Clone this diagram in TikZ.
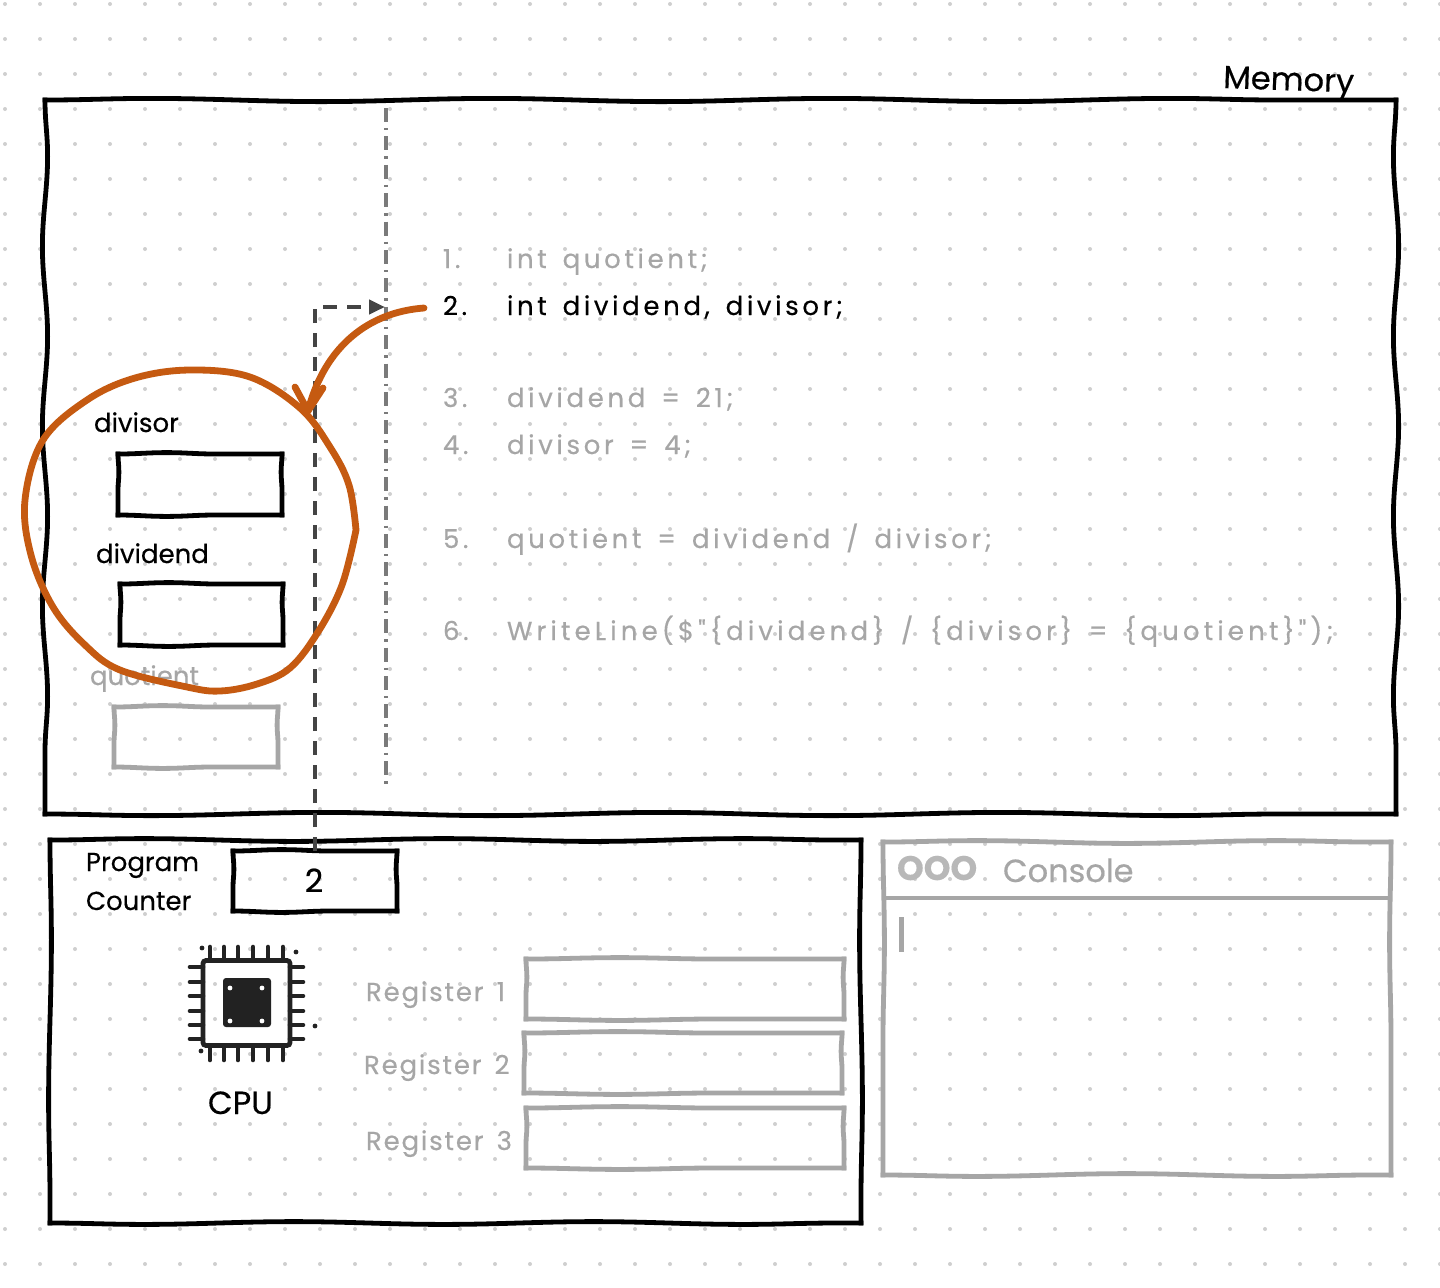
\documentclass[tikz,border=0pt]{standalone}
\usepackage{fontspec}
\setmainfont{Poppins}[LetterSpace=0,WordSpace=1.5,FakeBold=.4]
\newfontfamily\codefont{Poppins}[LetterSpace=14,WordSpace=1.5,FakeBold=.4]
\newfontfamily\codewide{Poppins}[LetterSpace=16,WordSpace=1.5,FakeBold=.4]
\newfontfamily\regfont{Poppins}[LetterSpace=7,WordSpace=1.5,FakeBold=.4]
\usetikzlibrary{decorations.pathmorphing,arrows.meta}
\definecolor{fade}{HTML}{A6A6A6}
\definecolor{griddot}{HTML}{CFCFCF}
\definecolor{pen}{HTML}{000000}
\definecolor{dashink}{HTML}{444444}
\definecolor{axisink}{HTML}{7A7A7A}
\definecolor{rust}{HTML}{C55A11}
\definecolor{chipink}{HTML}{222222}
\tikzset{
  x=0.5pt,y=-0.5pt,
  anchorbox/.style={inner sep=0pt,outer sep=0pt,draw=none},
  txt/.style={anchor=base west,inner sep=0pt,outer sep=0pt,font=\fontsize{13}{15}\selectfont},
  code/.style={txt,font=\codefont\fontsize{13}{15}\selectfont},
  codew/.style={txt,font=\codewide\fontsize{13}{15}\selectfont},
  reg/.style={txt,font=\regfont\fontsize{13}{15}\selectfont},
  faded/.style={text=fade},
  big/.style={font=\fontsize{16}{18}\selectfont},
  edge/.style={line width=2.4pt,line cap=rect,decorate},
  wobsmall/.style={decoration={snake,segment length=78pt,amplitude=.7pt}},
  wobsmallv/.style={decoration={snake,segment length=29pt,amplitude=.45pt}},
  wobbig/.style={decoration={snake,segment length=170pt,amplitude=.8pt}},
  wobmid/.style={decoration={snake,segment length=150pt,amplitude=.7pt}},
  wobbigv/.style={decoration={snake,segment length=90pt,amplitude=1.3pt}},
  wobconv/.style={decoration={snake,segment length=160pt,amplitude=.7pt}},
  pin/.style={line width=2.3pt,line cap=round,draw=chipink},
  dashconn/.style={draw=dashink,line width=2.2pt,dash pattern=on 7pt off 5pt,-{Triangle[length=8pt,width=7pt,fill=dashink]}},
  axisline/.style={draw=axisink,line width=1.8pt,dash pattern=on 7pt off 3pt on 1.2pt off 3pt},
  rustline/.style={draw=rust,line width=3.4pt,line cap=round,line join=round},
}
% name, x1, y1, x2, y2, colour, horizontal wobble, vertical wobble
\newcommand\wobbox[8]{%
  \node[anchorbox,minimum width={(#4-#2)*0.5pt},minimum height={(#5-#3)*0.5pt}] (#1) at ({(#2+#4)/2},{(#3+#5)/2}) {};
  \draw[edge,draw=#6,#7] (#1.north west) -- (#1.north east);
  \draw[edge,draw=#6,#7,decoration={mirror}] (#1.south west) -- (#1.south east);
  \draw[edge,draw=#6,#8] (#1.north west) -- (#1.south west);
  \draw[edge,draw=#6,#8,decoration={mirror}] (#1.north east) -- (#1.south east);
}
\begin{document}
\begin{tikzpicture}
\useasboundingbox (0,0) rectangle (1440,1287);
\fill[white] (0,0) rectangle (1440,1287);
% dot grid
\foreach \i in {0,...,41}{\foreach \j in {0,...,36}{
  \fill[griddot] ({5+35*\i},{4+35*\j}) circle[radius=2];
}}
% memory
\wobbox{memory}{45}{100}{1396}{814}{pen}{wobbig}{wobbigv}
\node[txt,big,rotate=-2] (memlabel) at (1223,88) {Memory};
\draw[axisline] (386,108) -- (386,785);
% code
\node[code,faded] (n1) at (443,268) {1.};
\node[code,faded] (c1) at (507,268) {int quotient;};
\node[code] (n2) at (443,315) {2.};
\node[code] (c2) at (507,315) {int dividend, divisor;};
\node[code,faded] (n3) at (443,407) {3.};
\node[code,faded] (c3) at (507,407) {dividend = 21;};
\node[code,faded] (n4) at (443,454) {4.};
\node[code,faded] (c4) at (507,454) {divisor = 4;};
\node[code,faded] (n5) at (443,548) {5.};
\node[code,faded] (c5) at (507,548) {quotient = dividend / divisor;};
\node[code,faded] (n6) at (443,640) {6.};
\node[codew,faded] (c6) at (507,640) {WriteLine(\$"\{dividend\} / \{divisor\} = \{quotient\}");};
% variables
\node[txt] (lbdivisor) at (94,432) {divisor};
\wobbox{vdivisor}{118}{454}{282}{515}{pen}{wobsmall}{wobsmallv}
\node[txt] (lbdividend) at (96,563) {dividend};
\wobbox{vdividend}{120}{584}{283}{645}{pen}{wobsmall}{wobsmallv}
\node[txt,faded] (lbquotient) at (90,685) {quotient};
\wobbox{vquotient}{114}{707}{278}{767}{fade}{wobsmall}{wobsmallv}
% cpu frame
\wobbox{cpuframe}{50}{840}{861}{1223}{pen}{wobmid}{wobconv}
\node[txt] (pclabela) at (86,871) {Program};
\node[txt] (pclabelb) at (86,910) {Counter};
\wobbox{pc}{233}{851}{397}{911}{pen}{wobsmall}{wobsmallv}
\node[txt,big,anchor=base] (pcvalue) at (314,892) {2};
% chip
\foreach \x in {210,224,238,253,268,283}{
  \draw[pin] (\x,947) -- (\x,960);
  \draw[pin] (\x,1046) -- (\x,1060);
}
\foreach \y in {967,982,996,1011,1025,1039}{
  \draw[pin] (190,\y) -- (203,\y);
  \draw[pin] (290,\y) -- (303,\y);
}
\node[anchorbox,draw=chipink,line width=2.4pt,rounded corners=1.5pt,minimum width=43.5pt,minimum height=42.5pt] (chip) at (246.5,1003) {};
\node[anchorbox,fill=chipink,rounded corners=1.5pt,minimum width=24pt,minimum height=24.5pt] (die) at (247,1002.5) {};
\foreach \x/\y in {230/988,262/988,230/1021,262/1021}{\fill[white] (\x,\y) circle[radius=2.4];}
\foreach \x/\y in {202/948,296/952,315/1026,201/1051}{\fill[chipink] (\x,\y) circle[radius=2.4];}
\node[txt,big] (cpulabel) at (208,1114) {CPU};
% registers
\node[reg,faded] (r1) at (366,1001) {Register 1};
\wobbox{reg1}{526}{959}{844}{1019}{fade}{wobmid}{wobsmallv}
\node[reg,faded] (r2) at (364,1074) {Register 2};
\wobbox{reg2}{524}{1033}{842}{1093}{fade}{wobmid}{wobsmallv}
\node[reg,faded] (r3) at (366,1150) {Register 3};
\wobbox{reg3}{526}{1108}{844}{1168}{fade}{wobmid}{wobsmallv}
% console
\wobbox{console}{883}{842}{1391}{1175}{fade}{wobmid}{wobconv}
\coordinate (hl) at (883,898);
\coordinate (hr) at (1391,898);
\draw[draw=fade,line width=2.4pt] (hl) -- (hr);
\node[txt,font=\fontsize{17}{18}\bfseries\selectfont,text=fade!80] (lights) at (897,880) {OOO};
\node[txt,big,faded] (consolelabel) at (1003,882) {Console};
\coordinate (cura) at (901,917);
\coordinate (curb) at (901,952);
\draw[draw=fade,line width=2.5pt] (cura) -- (curb);
% connector: program counter to code line
\coordinate (memline) at (385,307);
\draw[dashconn] (pc.north) |- (memline);
% circle and arrow
\draw[rustline] plot[smooth,tension=0.6] coordinates {(356,530) (349,485) (330,447) (300,408) (250,377) (190,370) (135,378) (87,400) (43,440) (25,500) (31,555) (53,607) (85,645) (120,670) (187,687) (220,691) (257,684) (290,668) (318,632) (342,585) (356,530)};
\coordinate (arrowstart) at (424,308);
\coordinate (arrowtip) at (308,411);
\draw[rustline] (arrowstart) .. controls (370,312) and (325,345) .. (arrowtip);
\coordinate (barba) at (295,387);
\coordinate (barbb) at (323,388);
\draw[rustline] (barba) -- (arrowtip) -- (barbb);
\end{tikzpicture}
\end{document}
